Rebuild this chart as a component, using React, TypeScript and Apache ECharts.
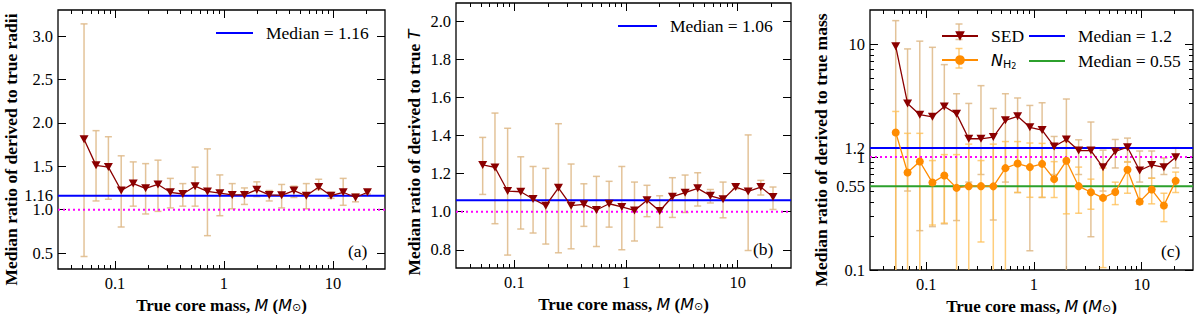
import React, { useEffect, useRef } from "react";
import * as echarts from "echarts";

// ---------------- data ----------------
const massBins = [0.052, 0.067, 0.087, 0.114, 0.147, 0.191, 0.248, 0.322, 0.419, 0.543, 0.705, 0.916, 1.19, 1.54, 2.0, 2.6, 3.38, 4.38, 5.69, 7.39, 9.59, 12.4, 16.1, 20.7];

const radiiMedian = [1.81, 1.51, 1.49, 1.22, 1.3, 1.245, 1.29, 1.2, 1.18, 1.27, 1.21, 1.19, 1.17, 1.17, 1.23, 1.17, 1.165, 1.22, 1.16, 1.26, 1.16, 1.2, 1.14, 1.2];
const radiiUpper = [3.14, 1.91, 1.84, 1.62, 1.55, 1.53, 1.57, 1.36, 1.3, 1.49, 1.7, 1.4, 1.3, 1.25, 1.32, 1.22, 1.29, 1.27, 1.3, 1.35, 1.2, 1.36, 1.18, 1.22];
const radiiLower = [0.46, 1.1, 1.12, 0.8, 1.04, 0.95, 0.98, 1.02, 1.04, 1.04, 0.7, 0.93, 1.01, 1.06, 1.15, 1.1, 1.02, 1.14, 1.01, 1.23, 1.13, 1.05, 1.09, 1.18];

const tempMedian = [1.246, 1.233, 1.109, 1.105, 1.067, 1.032, 1.126, 1.032, 1.039, 1.009, 1.042, 1.025, 1.007, 1.061, 1.004, 1.079, 1.1, 1.123, 1.084, 1.065, 1.13, 1.107, 1.13, 1.077];
const tempUpper = [1.391, 1.519, 1.439, 1.289, 1.238, 1.228, 1.463, 1.251, 1.147, 1.186, 1.16, 1.238, 1.156, 1.139, 1.084, 1.179, 1.193, 1.205, 1.117, 1.156, 1.14, 1.404, 1.165, 1.13];
const tempLower = [1.091, 0.937, 0.772, 0.909, 0.888, 0.83, 0.784, 0.805, 0.923, 0.817, 0.919, 0.8, 0.846, 0.974, 0.918, 0.97, 0.996, 1.03, 1.046, 0.968, 1.12, 0.796, 1.088, 1.012];

const sedMassMedian = [9.55, 2.98, 2.37, 2.27, 2.8, 2.41, 1.45, 1.45, 1.5, 2.11, 2.29, 1.83, 1.73, 1.24, 1.43, 1.14, 1.14, 0.81, 1.12, 1.22, 0.76, 0.85, 0.81, 0.995];
const sedMassUpper = [16.1, 9.05, 10.6, 9.35, 6.57, 3.63, 2.98, 4.28, 2.69, 3.63, 3.33, 2.86, 3.02, 1.52, 3.26, 1.42, 2.04, 1.15, 1.43, 1.47, 1.13, 1.13, 0.98, 1.21];
const sedMassLower = [0.02, 0.5, 0.223, 0.242, 0.256, 0.274, 0.6, 0.7, 0.277, 0.6, 0.485, 0.148, 0.438, 0.7, 0.02, 0.7, 0.197, 0.5, 0.8, 0.9, 0.6, 0.65, 0.7, 0.8];

const nh2MassMedian = [1.65, 0.729, 0.912, 0.594, 0.686, 0.533, 0.552, 0.552, 0.55, 0.797, 0.876, 0.814, 0.87, 0.637, 0.925, 0.552, 0.488, 0.435, 0.49, 0.77, 0.403, 0.515, 0.372, 0.615];
const nh2MassUpper = [2.53, 1.62, 1.62, 0.93, 1.05, 1.05, 1.3, 0.93, 1.3, 1.37, 1.37, 1.33, 1.32, 0.91, 1.37, 0.814, 0.637, 0.8, 0.599, 0.91, 0.55, 0.65, 0.478, 0.735];
const nh2MassLower = [0.02, 0.02, 0.02, 0.25, 0.26, 0.02, 0.02, 0.177, 0.02, 0.02, 0.485, 0.44, 0.44, 0.438, 0.314, 0.318, 0.345, 0.105, 0.379, 0.478, 0.382, 0.385, 0.268, 0.485];

const radiiMedianValue = 1.16;
const tempMedianValue = 1.06;
const sedMedianValue = 1.2;
const nh2MedianValue = 0.55;
const unityValue = 1.0;

const xMajorTicks = [0.1, 1, 10];
const xMinorTicks = [0.04, 0.05, 0.06, 0.07, 0.08, 0.09, 0.2, 0.3, 0.4, 0.5, 0.6, 0.7, 0.8, 0.9, 2, 3, 4, 5, 6, 7, 8, 9, 20];
const radiiYTicks = ["0.5", "1.0", "1.16", "1.5", "2.0", "2.5", "3.0"];
const tempYTicks = ["0.8", "1.0", "1.2", "1.4", "1.6", "1.8", "2.0"];
const massYTicks = ["0.1", "0.55", "1", "1.2", "10"];
const massYMinor = [0.2, 0.3, 0.4, 0.5, 0.6, 0.7, 0.8, 0.9, 2, 3, 4, 5, 6, 7, 8, 9];

// ---------------- styles ----------------
const FONT = "'Liberation Serif', 'Times New Roman', serif";
const SANS = "'DejaVu Sans', sans-serif";
const X_MIN = 0.03;
const X_MAX = 30;
const DARKRED = "#8b0000";
const ORANGE = "#ff8c00";
const TAN = "rgba(222,184,135,0.85)";
const LIGHTORANGE = "rgba(255,190,80,0.75)";
const BLUE = "#0000ff";
const GREEN = "#2ca02c";
const MAGENTA = "#ff00ff";

const richTitle = {
  b: { fontFamily: FONT, fontWeight: "bold", fontSize: 17, color: "#000" },
  bi: { fontFamily: SANS, fontStyle: "italic", fontSize: 16, color: "#000" },
  sub: { fontFamily: SANS, fontSize: 11, color: "#000", padding: [4, 0, 0, 0] },
};
const richYTitle = {
  b: { fontFamily: FONT, fontWeight: "bold", fontSize: 17.5, color: "#000" },
  bi: { fontFamily: SANS, fontStyle: "italic", fontSize: 16, color: "#000" },
};

const xTitle = "{b|True core mass, }{bi|M}{b| (}{bi|M}{sub|⊙}{b|)}";

export default function App() {
  const ref = useRef<HTMLDivElement>(null);

  useEffect(() => {
    if (!ref.current) return;
    const chart = echarts.init(ref.current, null, { renderer: "svg" });

    const panels = [
      {
        grid: { left: 58, top: 10, width: 327, height: 259 },
        yType: "value",
        yMin: 0.316,
        yMax: 3.3,
        yTicks: radiiYTicks,
        yMinor: null as number[] | null,
        yName: "{b|Median ratio of derived to true radii}",
        yNameGap: 38,
        yNamePad: 20,
        xNameGap: 22,
      },
      {
        grid: { left: 456, top: 3, width: 335, height: 265 },
        yType: "value",
        yMin: 0.704,
        yMax: 2.098,
        yTicks: tempYTicks,
        yMinor: null as number[] | null,
        yName: "{b|Median ratio of derived to true }{bi|T}",
        yNameGap: 33,
        yNamePad: 34,
        xNameGap: 23,
      },
      {
        grid: { left: 870, top: 10, width: 323, height: 260 },
        yType: "log",
        yMin: 0.1,
        yMax: 20,
        yTicks: massYTicks,
        yMinor: massYMinor,
        yName: "{b|Median ratio of derived to true mass}",
        yNameGap: 40,
        yNamePad: 20,
        xNameGap: 21,
      },
    ];

    const grids: any[] = [];
    const xAxes: any[] = [];
    const yAxes: any[] = [];
    const mainX: number[] = [];
    const mainY: number[] = [];

    const tickLine = { color: "#000", width: 1 };

    panels.forEach((p, g) => {
      grids.push({
        ...p.grid,
        show: true,
        borderColor: "#000",
        borderWidth: 1.3,
        backgroundColor: "transparent",
        containLabel: false,
        outerBoundsMode: "none",
      });
      const xBase = {
        type: "log",
        logBase: 10,
        gridIndex: g,
        min: X_MIN,
        max: X_MAX,
        axisLine: { show: false },
        splitLine: { show: false },
        minorTick: { show: false },
      };
      mainX.push(xAxes.length);
      xAxes.push({
        ...xBase,
        position: "bottom",
        axisTick: { inside: true, length: 8, customValues: xMajorTicks, lineStyle: tickLine },
        axisLabel: {
          customValues: xMajorTicks,
          formatter: (v: number) => String(v),
          fontFamily: FONT,
          fontSize: 16.5,
          color: "#000",
          margin: 6,
        },
        name: xTitle,
        nameLocation: "middle",
        nameGap: p.xNameGap,
        nameTextStyle: { rich: richTitle },
      });
      xAxes.push({
        ...xBase,
        position: "bottom",
        axisTick: { inside: true, length: 4, customValues: xMinorTicks, lineStyle: tickLine },
        axisLabel: { show: false },
      });
      xAxes.push({
        ...xBase,
        position: "top",
        axisTick: { inside: true, length: 8, customValues: xMajorTicks, lineStyle: tickLine },
        axisLabel: { show: false },
      });
      xAxes.push({
        ...xBase,
        position: "top",
        axisTick: { inside: true, length: 4, customValues: xMinorTicks, lineStyle: tickLine },
        axisLabel: { show: false },
      });

      const yVals = p.yTicks.map((t) => parseFloat(t));
      const labelMap = new Map<number, string>();
      p.yTicks.forEach((t) => labelMap.set(parseFloat(t), t));
      const yBase: any = {
        type: p.yType,
        gridIndex: g,
        min: p.yMin,
        max: p.yMax,
        axisLine: { show: false },
        splitLine: { show: false },
        minorTick: { show: false },
      };
      if (p.yType === "log") yBase.logBase = 10;
      mainY.push(yAxes.length);
      yAxes.push({
        ...yBase,
        position: "left",
        axisTick: { inside: true, length: 8, customValues: yVals, lineStyle: tickLine },
        axisLabel: {
          customValues: yVals,
          formatter: (v: number) => labelMap.get(v) ?? String(v),
          fontFamily: FONT,
          fontSize: 16.5,
          color: "#000",
          margin: 5,
        },
        name: p.yName,
        nameLocation: "middle",
        nameGap: p.yNameGap,
        nameRotate: 90,
        nameTextStyle: { rich: richYTitle, padding: [0, p.yNamePad, 0, 0] },
      });
      yAxes.push({
        ...yBase,
        position: "right",
        axisTick: { inside: true, length: 8, customValues: yVals, lineStyle: tickLine },
        axisLabel: { show: false },
      });
      if (p.yMinor) {
        yAxes.push({
          ...yBase,
          position: "left",
          axisTick: { inside: true, length: 4, customValues: p.yMinor, lineStyle: tickLine },
          axisLabel: { show: false },
        });
        yAxes.push({
          ...yBase,
          position: "right",
          axisTick: { inside: true, length: 4, customValues: p.yMinor, lineStyle: tickLine },
          axisLabel: { show: false },
        });
      }
    });

    const errorBars = (g: number, lows: number[], highs: number[], color: string, z: number) => ({
      type: "custom",
      xAxisIndex: mainX[g],
      yAxisIndex: mainY[g],
      clip: true,
      silent: true,
      z,
      data: massBins.map((m, i) => [m, lows[i], highs[i]]),
      encode: { x: 0, y: [1, 2] },
      renderItem: (params: any, api: any) => {
        const x = api.value(0);
        const top = api.coord([x, api.value(2)]);
        const bot = api.coord([x, api.value(1)]);
        const cw = 3.5;
        const style = { stroke: color, lineWidth: 1.5, fill: null };
        return {
          type: "group",
          children: [
            { type: "line", shape: { x1: top[0], y1: top[1], x2: bot[0], y2: bot[1] }, style },
            { type: "line", shape: { x1: top[0] - cw, y1: top[1], x2: top[0] + cw, y2: top[1] }, style },
            { type: "line", shape: { x1: bot[0] - cw, y1: bot[1], x2: bot[0] + cw, y2: bot[1] }, style },
          ],
        };
      },
    });

    const hLine = (g: number, name: string, value: number, color: string, type: any, z: number) => ({
      type: "line",
      name,
      xAxisIndex: mainX[g],
      yAxisIndex: mainY[g],
      data: [
        [X_MIN, value],
        [X_MAX, value],
      ],
      symbol: "circle",
      showSymbol: false,
      silent: true,
      z,
      lineStyle: { color, width: 2, type },
      itemStyle: { color },
    });

    const medianSeries = (g: number, name: string, vals: number[], color: string, symbol: string, rotate: number, size: any, lw: number) => ({
      type: "line",
      name,
      xAxisIndex: mainX[g],
      yAxisIndex: mainY[g],
      data: massBins.map((m, i) => [m, vals[i]]),
      symbol,
      symbolRotate: rotate,
      symbolSize: size,
      showSymbol: true,
      silent: true,
      z: 6,
      lineStyle: { color, width: lw },
      itemStyle: { color },
    });

    const series: any[] = [
      // panel a
      errorBars(0, radiiLower, radiiUpper, TAN, 2),
      hLine(0, "unity a", unityValue, MAGENTA, [2, 3], 3),
      hLine(0, "Median = 1.16", radiiMedianValue, BLUE, "solid", 4),
      medianSeries(0, "radii", radiiMedian, DARKRED, "triangle", 180, [9, 8], 1.3),
      // panel b
      errorBars(1, tempLower, tempUpper, TAN, 2),
      hLine(1, "unity b", unityValue, MAGENTA, [2, 3], 3),
      hLine(1, "Median = 1.06", tempMedianValue, BLUE, "solid", 4),
      medianSeries(1, "temperature", tempMedian, DARKRED, "triangle", 180, [9, 8], 1.3),
      // panel c
      errorBars(2, sedMassLower, sedMassUpper, TAN, 2),
      errorBars(2, nh2MassLower, nh2MassUpper, LIGHTORANGE, 2),
      hLine(2, "unity c", unityValue, MAGENTA, [2, 3], 3),
      hLine(2, "Median = 1.2", sedMedianValue, BLUE, "solid", 4),
      hLine(2, "Median = 0.55", nh2MedianValue, GREEN, "solid", 4),
      medianSeries(2, "SED", sedMassMedian, DARKRED, "triangle", 180, [9, 8], 1.3),
      medianSeries(2, "NH2", nh2MassMedian, ORANGE, "circle", 0, 8, 1.3),
    ];

    const legendText = {
      fontFamily: FONT,
      fontSize: 17.5,
      color: "#000",
      padding: [0, 0, 0, 8],
      rich: {
        it: { fontFamily: SANS, fontStyle: "italic", fontSize: 16, color: "#000" },
        sub: { fontFamily: SANS, fontSize: 11, color: "#000", padding: [9, 0, 0, 0] },
        sub2: { fontFamily: SANS, fontSize: 8, color: "#000", padding: [13, 0, 0, 0] },
      },
    };
    const legendBase = {
      selectedMode: false,
      padding: 0,
      itemHeight: 12,
      textStyle: legendText,
      inactiveColor: "#000",
    };
    const noSymbol = { color: "transparent", borderColor: "transparent", borderWidth: 0, opacity: 0 };
    const lineOnly = (name: string) => ({ name, itemStyle: noSymbol });

    const option: any = {
      animation: false,
      backgroundColor: "#fff",
      grid: grids,
      xAxis: xAxes,
      yAxis: yAxes,
      series,
      legend: [
        { ...legendBase, data: [lineOnly("Median = 1.16")], left: 215, top: 24, itemWidth: 37 },
        { ...legendBase, data: [lineOnly("Median = 1.06")], left: 617, top: 17, itemWidth: 39 },
        {
          ...legendBase,
          data: ["SED", "NH2"],
          left: 941,
          top: 27,
          orient: "vertical",
          itemGap: 7,
          itemWidth: 36,
          formatter: (name: string) => (name === "NH2" ? "{it|N}{sub|H}{sub2|2}" : name),
        },
        {
          ...legendBase,
          data: [lineOnly("Median = 1.2"), lineOnly("Median = 0.55")],
          left: 1028,
          top: 27,
          orient: "vertical",
          itemGap: 7,
          itemWidth: 36,
        },
      ],
      graphic: [
        { type: "text", left: 348, top: 242, z: 10, style: { text: "(a)", fontFamily: FONT, fontSize: 17.5, fill: "#000" } },
        { type: "text", left: 753, top: 240, z: 10, style: { text: "(b)", fontFamily: FONT, fontSize: 17.5, fill: "#000" } },
        { type: "text", left: 1161, top: 242, z: 10, style: { text: "(c)", fontFamily: FONT, fontSize: 17.5, fill: "#000" } },
        // legend error-bar glyphs (behind the legend symbols)
        { type: "line", z: 0, shape: { x1: 959, y1: 24, x2: 959, y2: 39.5 }, style: { stroke: TAN, lineWidth: 1.5 } },
        { type: "line", z: 0, shape: { x1: 955.5, y1: 24, x2: 962.5, y2: 24 }, style: { stroke: TAN, lineWidth: 1.5 } },
        { type: "line", z: 0, shape: { x1: 955.5, y1: 39.5, x2: 962.5, y2: 39.5 }, style: { stroke: TAN, lineWidth: 1.5 } },
        { type: "line", z: 0, shape: { x1: 959, y1: 48.5, x2: 959, y2: 68 }, style: { stroke: LIGHTORANGE, lineWidth: 1.5 } },
        { type: "line", z: 0, shape: { x1: 955.5, y1: 48.5, x2: 962.5, y2: 48.5 }, style: { stroke: LIGHTORANGE, lineWidth: 1.5 } },
        { type: "line", z: 0, shape: { x1: 955.5, y1: 68, x2: 962.5, y2: 68 }, style: { stroke: LIGHTORANGE, lineWidth: 1.5 } },
      ],
    };

    chart.setOption(option);
    return () => chart.dispose();
  }, []);

  return (
    <div
      ref={ref}
      style={{ position: "fixed", left: 0, top: 0, width: 1200, height: 314, background: "#fff" }}
    />
  );
}
